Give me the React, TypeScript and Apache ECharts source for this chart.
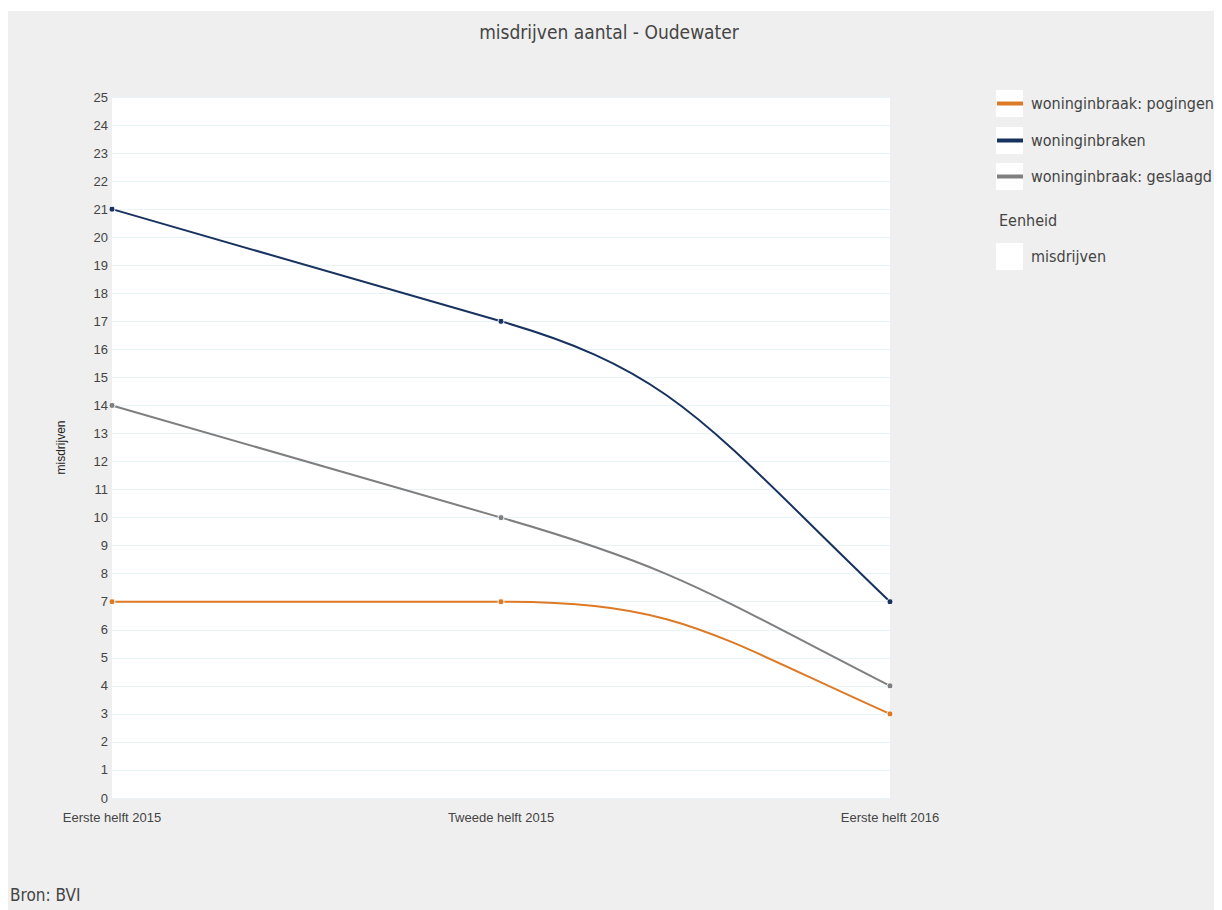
import React, { useEffect, useRef } from "react";
import * as echarts from "echarts";

const categories = ["Eerste helft 2015", "Tweede helft 2015", "Eerste helft 2016"];
const pogingen = [7, 7, 3];
const woninginbraken = [21, 17, 7];
const geslaagd = [14, 10, 4];
const seriesNames = ["woninginbraak: pogingen", "woninginbraken", "woninginbraak: geslaagd"];
const seriesColors = ["#dd7a26", "#17325f", "#7f7f80"];
const unitName = "misdrijven";

const NARROW = "'Liberation Sans Narrow', 'DejaVu Sans Condensed', 'Noto Sans', sans-serif";
const ARIAL = "Arial, 'Liberation Sans', sans-serif";

// Builds the spline through points already converted to pixels by the axes
function splinePath(pts: number[][]): string {
  if (pts.length < 2) return "";
  let d = `M${pts[0][0]},${pts[0][1]} L${pts[1][0]},${pts[1][1]}`;
  let m0 = (pts[1][1] - pts[0][1]) / (pts[1][0] - pts[0][0]);
  for (let k = 1; k < pts.length - 1; k++) {
    const [x1, y1] = pts[k];
    const [x2, y2] = pts[k + 1];
    const dx = x2 - x1;
    const chord = (y2 - y1) / dx;
    const mEnd = chord + 0.55 * (chord - m0);
    const c1x = x1 + 0.45 * dx;
    const c1y = y1 + 0.45 * dx * m0;
    const c2x = x2 - 0.47 * dx;
    const c2y = y2 - 0.47 * dx * mEnd;
    d += ` C${c1x},${c1y} ${c2x},${c2y} ${x2},${y2}`;
    m0 = mEnd;
  }
  return d;
}

export default function App() {
  const ref = useRef<HTMLDivElement>(null);
  useEffect(() => {
    if (!ref.current) return;
    const chart = echarts.init(ref.current, null, { renderer: "svg" });
    const values = [pogingen, woninginbraken, geslaagd];
    const legendItems: any[] = [];
    const boxX = 988;
    const boxTops = [79, 116, 152];
    seriesNames.forEach((name, i) => {
      const top = boxTops[i];
      legendItems.push(
        { type: "rect", shape: { x: boxX, y: top, width: 27, height: 27 }, style: { fill: "#ffffff" } },
        { type: "rect", shape: { x: boxX + 1, y: top + 11.5, width: 26, height: 4 }, style: { fill: seriesColors[i] } },
        {
          type: "text",
          x: 1023,
          y: top + 13.5,
          style: { text: name, font: `16px ${NARROW}`, fill: "#444", textVerticalAlign: "middle" },
        }
      );
    });
    legendItems.push(
      {
        type: "text",
        x: 991,
        y: 209,
        style: { text: "Eenheid", font: `16px ${NARROW}`, fill: "#444", textVerticalAlign: "middle" },
      },
      { type: "rect", shape: { x: boxX, y: 232, width: 27, height: 27 }, style: { fill: "#ffffff" } },
      {
        type: "text",
        x: 1023,
        y: 245.5,
        style: { text: unitName, font: `16px ${NARROW}`, fill: "#444", textVerticalAlign: "middle" },
      }
    );

    const curveSeries = seriesNames.map((name, i) => ({
      name: name + " (lijn)",
      type: "custom",
      coordinateSystem: "cartesian2d",
      data: values[i].map((v, j) => [j, v]),
      encode: { x: 0, y: 1 },
      z: i === 1 ? 3 : 2,
      silent: true,
      renderItem: (params: any, api: any) => {
        if (params.dataIndex !== 0) return null;
        const pts = values[i].map((v, j) => api.coord([j, v]));
        return {
          type: "path",
          shape: { pathData: splinePath(pts) },
          style: { stroke: seriesColors[i], fill: "none", lineWidth: 2 },
        };
      },
    }));

    const pointSeries = seriesNames.map((name, i) => ({
      name,
      type: "line",
      data: values[i],
      symbol: "circle",
      symbolSize: 6,
      lineStyle: { opacity: 0, width: 0 },
      itemStyle: { color: seriesColors[i], borderColor: "#ffffff", borderWidth: 1 },
      z: 5,
    }));

    chart.setOption({
      animation: false,
      backgroundColor: "#efefef",
      grid: {
        left: 104,
        right: 332,
        top: 86,
        bottom: 112,
        show: true,
        backgroundColor: "#ffffff",
        borderWidth: 0,
      },
      xAxis: {
        type: "category",
        data: categories,
        boundaryGap: false,
        axisLine: { show: false },
        axisTick: { show: false },
        axisLabel: { color: "#444", fontFamily: ARIAL, fontSize: 13, margin: 13 },
        splitLine: { show: false },
      },
      yAxis: {
        type: "value",
        min: 0,
        max: 25,
        interval: 1,
        name: "misdrijven",
        nameLocation: "middle",
        nameGap: 45,
        nameTextStyle: { color: "#222", fontFamily: ARIAL, fontSize: 12 },
        axisLine: { show: false },
        axisTick: { show: false },
        axisLabel: { color: "#444", fontFamily: ARIAL, fontSize: 13, margin: 4 },
        splitLine: { show: true, lineStyle: { color: "#e8f3fa", width: 1 } },
      },
      series: [...curveSeries, ...pointSeries],
      graphic: [
        {
          type: "text",
          x: 601,
          y: 21,
          style: {
            text: "misdrijven aantal - Oudewater",
            font: `19px ${NARROW}`,
            fill: "#444",
            textAlign: "center",
            textVerticalAlign: "middle",
          },
        },
        ...legendItems,
        {
          type: "text",
          x: 2,
          y: 884,
          style: { text: "Bron: BVI", font: `17px ${NARROW}`, fill: "#444", textVerticalAlign: "middle" },
        },
      ],
    });
    return () => chart.dispose();
  }, []);
  return (
    <div style={{ paddingTop: 3 }}>
      <div ref={ref} style={{ width: 1214, height: 899 }} />
    </div>
  );
}
